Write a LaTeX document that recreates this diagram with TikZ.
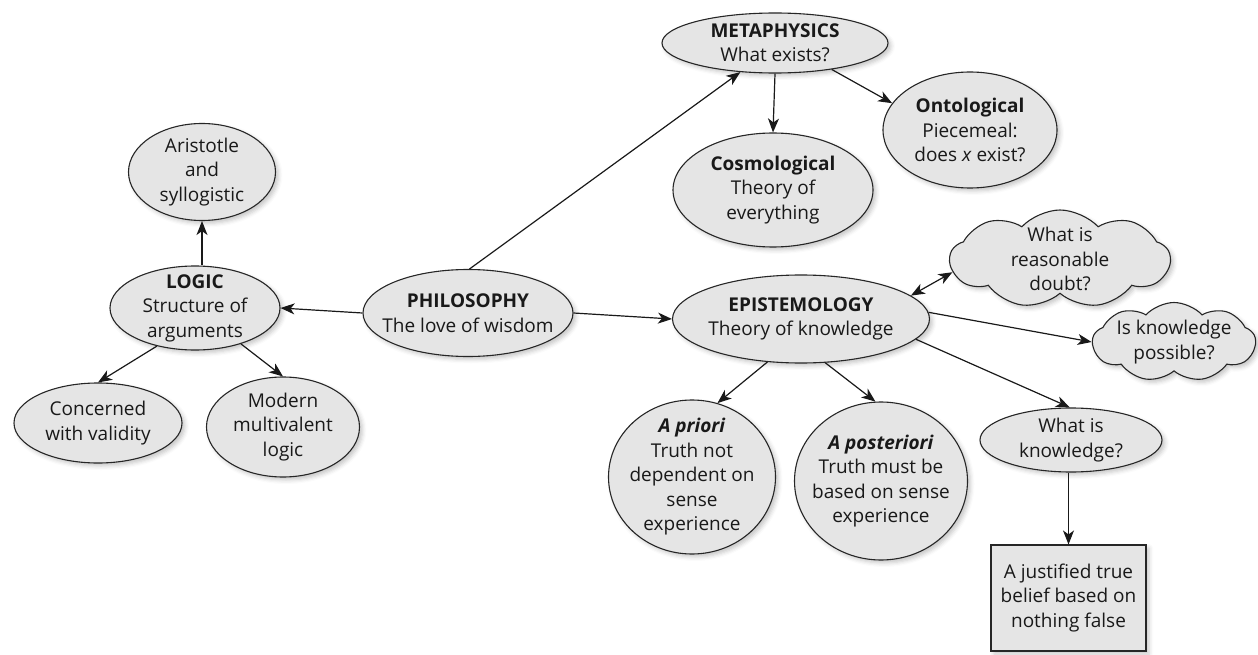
\documentclass[tikz,border=0pt]{standalone}
\usepackage{fontspec}
\setmainfont{Open Sans}
\usetikzlibrary{shapes.geometric,shapes.symbols,arrows.meta,shadows.blur}
\tikzset{
  base/.style={draw=black!85, line width=1.1pt, fill=black!10, align=center,
    text=black!90, font=\fontsize{19}{24.5}\selectfont,
    blur shadow={shadow xshift=3pt, shadow yshift=-3pt, shadow blur radius=4pt, shadow opacity=22}},
  bubble/.style={base, ellipse, inner sep=-30pt},
  thought/.style={base, cloud, cloud puffs=9, cloud puff arc=95, cloud ignores aspect, inner sep=-30pt},
  textbox/.style={base, rectangle, inner sep=0pt},
  conn/.style={line width=1.2pt, draw=black!90, -{Stealth[length=14pt,width=11pt,inset=4pt]}},
  conn2/.style={line width=1.2pt, draw=black!90, {Stealth[length=14pt,width=11pt,inset=4pt]}-{Stealth[length=14pt,width=11pt,inset=4pt]}},
}
\begin{document}
\begin{tikzpicture}[x=1pt,y=-1pt]
\useasboundingbox (0,0) rectangle (1258,655);
\node[bubble, minimum width=226pt, minimum height=60pt] (meta) at (775,43) {\textbf{METAPHYSICS}\\What exists?};
\node[bubble, minimum width=200pt, minimum height=114pt] (cosmo) at (773,190) {\textbf{Cosmological}\\Theory of\\everything};
\node[bubble, minimum width=174pt, minimum height=116pt] (onto) at (970,130) {\textbf{Ontological}\\Piecemeal:\\does \textit{x} exist?};
\node[bubble, minimum width=147pt, minimum height=97pt] (arist) at (202,172) {Aristotle\\and\\syllogistic};
\node[bubble, minimum width=170pt, minimum height=84pt] (logic) at (195,308) {\textbf{LOGIC}\\Structure of\\arguments};
\node[bubble, minimum width=210pt, minimum height=87pt] (phil) at (468,313) {\textbf{PHILOSOPHY}\\The love of wisdom};
\node[bubble, minimum width=168pt, minimum height=80pt] (conc) at (98,423) {Concerned\\with validity};
\node[bubble, minimum width=153pt, minimum height=100pt] (modern) at (283,427) {Modern\\multivalent\\logic};
\node[bubble, minimum width=257pt, minimum height=88pt] (epist) at (801,319) {\textbf{EPISTEMOLOGY}\\Theory of knowledge};
\node[thought, minimum width=220pt, minimum height=98pt] (doubt) at (1060,259) {What is\\reasonable\\doubt?};
\node[thought, minimum width=163pt, minimum height=79pt] (poss) at (1174,342) {Is knowledge\\possible?};
\node[bubble, minimum width=167pt, minimum height=154pt] (apri) at (692,477) {\textbf{\textit{A priori}}\\Truth not\\dependent on\\sense\\experience};
\node[bubble, minimum width=173pt, minimum height=158pt] (apost) at (881,481) {\textbf{\textit{A posteriori}}\\Truth must be\\based on sense\\experience};
\node[bubble, minimum width=182pt, minimum height=64pt] (know) at (1071,440) {What is\\knowledge?};
\node[textbox, minimum width=155pt, minimum height=106pt] (just) at (1068.5,598) {A justified true\\belief based on\\nothing false};

\draw[conn] (phil.88) -- (meta.220);
\draw[conn] (phil.west) -- (logic.east);
\draw[conn] (arist.south |- logic.north) -- (arist.south);
\draw[conn] (logic.225) -- (conc.north);
\draw[conn] (logic.322) -- (modern.north);
\draw[conn] (phil.east) -- (epist.west);
\draw[conn] (meta.south) -- (cosmo.north);
\draw[conn] (meta.335) -- (onto.161);
\draw[conn2] (epist.12) -- (doubt.187);
\draw[conn] (epist.3) -- (poss.west);
\draw[conn] (epist.232) -- (apri.71);
\draw[conn] (epist.299) -- (apost.94);
\draw[conn] (epist.350) -- (know.92);
\draw[conn] (know.south -| just.north) -- (just.north);
\end{tikzpicture}
\end{document}
